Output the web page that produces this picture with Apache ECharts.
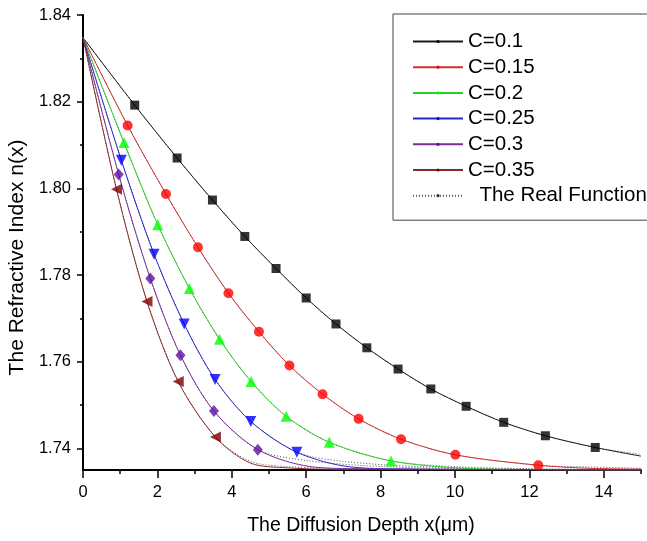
<!DOCTYPE html>
<html>
<head>
<meta charset="utf-8">
<script src="https://cdn.jsdelivr.net/npm/echarts@6/dist/echarts.min.js"></script>
<style>
  html, body { margin: 0; background: #fff; }
  #chart { width: 647px; height: 541px; }
</style>
</head>
<body>
<div id="chart"></div>
<script>
// all curves start from the surface index
const START = [0, 1.8348]

// marker points [x, n]
const c010Marks = [[1.39, 1.8192], [2.53, 1.8070], [3.48, 1.7973], [4.35, 1.7889], [5.19, 1.7815], [6.00, 1.7747],
  [6.80, 1.7687], [7.63, 1.7632], [8.47, 1.7583], [9.35, 1.7537], [10.30, 1.7497], [11.31, 1.7460], [12.43, 1.7429], [13.77, 1.7402]]
const c015Marks = [[1.20, 1.8145], [2.23, 1.7987], [3.09, 1.7864], [3.91, 1.7758], [4.73, 1.7669], [5.55, 1.7591],
  [6.44, 1.7525], [7.41, 1.7468], [8.55, 1.7421], [10.01, 1.7385], [12.24, 1.7361]]
const c020Marks = [[1.10, 1.8106], [2.01, 1.7916], [2.86, 1.7769], [3.67, 1.7652], [4.52, 1.7554], [5.46, 1.7474],
  [6.62, 1.7414], [8.28, 1.7371]]
const c025Marks = [[1.03, 1.8065], [1.91, 1.7848], [2.72, 1.7687], [3.55, 1.7559], [4.51, 1.7462], [5.75, 1.7391]]
const c030Marks = [[0.96, 1.8032], [1.81, 1.7792], [2.62, 1.7615], [3.52, 1.7486], [4.70, 1.7397]]
const c035Marks = [[0.90, 1.7998], [1.72, 1.7739], [2.56, 1.7554], [3.56, 1.7426]]

// tails of the fitted curves after the last marker
const c010Tail = [[15, 1.7382]]
const c015Tail = [[13.6, 1.7354], [15, 1.7352]]
const c020Tail = [[10.2, 1.7354], [12, 1.7351], [15, 1.7350]]
const c025Tail = [[7.2, 1.7357], [9, 1.7352], [15, 1.7350]]
const c030Tail = [[6.1, 1.7358], [7.5, 1.7353], [15, 1.7350]]
const c035Tail = [[4.5, 1.7366], [5.5, 1.7355], [7, 1.7351], [15, 1.7350]]

// tails of the real function (dotted), slightly above the fits
const c010RealTail = [[15, 1.7386]]
const c015RealTail = [[13.6, 1.7357], [15, 1.7354]]
const c020RealTail = [[10.2, 1.7357], [12, 1.7353], [15, 1.7351]]
const c025RealTail = [[7.0, 1.7370], [9, 1.7358], [12, 1.7352], [15, 1.7350]]
const c030RealTail = [[6.0, 1.7372], [8, 1.7358], [11, 1.7352], [15, 1.7350]]
const c035RealTail = [[4.5, 1.7370], [5.5, 1.7358], [7.5, 1.7352], [15, 1.7350]]

const names = ['C=0.1', 'C=0.15', 'C=0.2', 'C=0.25', 'C=0.3', 'C=0.35']
const REAL = 'The Real Function'

const yLabels = [1.74, 1.76, 1.78, 1.80, 1.82, 1.84]
const yMinor = [1.75, 1.77, 1.79, 1.81, 1.83]
const xLabels = [0, 2, 4, 6, 8, 10, 12, 14]
const xMinor = [1, 3, 5, 7, 9, 11, 13, 15]

const curves = [
  { marks: c010Marks, tail: c010Tail, real: c010RealTail, line: '#1a1a1a', fill: '#000000', symbol: 'rect', size: 9, rot: 0 },
  { marks: c015Marks, tail: c015Tail, real: c015RealTail, line: '#d03030', fill: '#ff0000', symbol: 'circle', size: 10, rot: 0 },
  { marks: c020Marks, tail: c020Tail, real: c020RealTail, line: '#2ccc2c', fill: '#00ff00', symbol: 'triangle', size: 11, rot: 0 },
  { marks: c025Marks, tail: c025Tail, real: c025RealTail, line: '#2828c8', fill: '#0000ff', symbol: 'triangle', size: 11, rot: 180 },
  { marks: c030Marks, tail: c030Tail, real: c030RealTail, line: '#7a2e9a', fill: '#6010a0', symbol: 'diamond', size: [10, 12], rot: 0 },
  { marks: c035Marks, tail: c035Tail, real: c035RealTail, line: '#8a2a2a', fill: '#800000', symbol: 'triangle', size: 11, rot: 90 },
]

const FONT = '"Liberation Sans", Arial, sans-serif'

const series = []
// dotted real function underneath
curves.forEach(c => {
  series.push({
    name: REAL, type: 'line', smooth: 0.3, symbol: 'circle', showSymbol: false,
    data: [START, ...c.marks, ...c.real],
    lineStyle: { color: '#555', width: 1, type: [1, 2] },
    itemStyle: { color: '#333' }, z: 1,
  })
})
curves.forEach((c, i) => {
  series.push({
    name: names[i], type: 'line', smooth: 0.3, symbol: 'circle', showSymbol: false,
    data: [START, ...c.marks, ...c.tail],
    lineStyle: { color: c.line, width: 1 },
    itemStyle: { color: c.fill }, z: 2,
  })
  series.push({
    name: names[i] + ' pts', type: 'scatter', data: c.marks,
    symbol: c.symbol, symbolSize: c.size, symbolRotate: c.rot,
    itemStyle: { color: c.fill }, z: 3,
  })
})

const chart = echarts.init(document.getElementById('chart'))
chart.setOption({
  animation: false,
  backgroundColor: '#fff',
  grid: { left: 83, right: 6, top: 15, bottom: 71 },
  legend: {
    data: [...names, REAL],
    orient: 'vertical', left: 393, top: 14,
    padding: [17, 40, 14, 19],
    borderColor: '#444', borderWidth: 1,
    itemWidth: 50, itemHeight: 4, itemGap: 4.7,
    textStyle: { fontSize: 20.5, color: '#000', fontFamily: FONT },
    formatter: n => n === REAL ? '  ' + n : n,
  },
  xAxis: [{
    type: 'value', min: 0, max: 15,
    axisLine: { lineStyle: { color: '#000', width: 2 } },
    axisTick: { customValues: xLabels, length: 8, inside: false, lineStyle: { color: '#000', width: 1.5 } },
    axisLabel: { customValues: xLabels, fontSize: 16.5, color: '#000', fontFamily: FONT, margin: 14 },
    splitLine: { show: false },
  }, {
    type: 'value', min: 0, max: 15, position: 'bottom',
    axisLine: { show: false },
    axisTick: { customValues: xMinor, length: 4, lineStyle: { color: '#000', width: 1.5 } },
    axisLabel: { show: false },
    splitLine: { show: false },
  }],
  yAxis: [{
    type: 'value', min: 1.735, max: 1.84,
    axisLine: { show: true, lineStyle: { color: '#000', width: 2 } },
    axisTick: { show: true, customValues: yLabels, length: 6, lineStyle: { color: '#000', width: 1.5 } },
    axisLabel: { customValues: yLabels, fontSize: 16.5, color: '#000', fontFamily: FONT, margin: 12, formatter: v => v.toFixed(2) },
    splitLine: { show: false },
  }, {
    type: 'value', min: 1.735, max: 1.84, position: 'left',
    axisLine: { show: false },
    axisTick: { show: true, customValues: yMinor, length: 3, lineStyle: { color: '#000', width: 1.5 } },
    axisLabel: { show: false },
    splitLine: { show: false },
  }],
  graphic: [
    { type: 'text', x: 361, y: 526, style: { text: 'The Diffusion Depth x(\u03bcm)', font: '19.5px ' + FONT, fill: '#000', align: 'center', verticalAlign: 'middle' } },
    { type: 'text', x: 17, y: 257.5, rotation: Math.PI / 2, style: { text: 'The Refractive Index n(x)', font: '21px ' + FONT, fill: '#000', align: 'center', verticalAlign: 'middle' } },
  ],
  series,
})
</script>
</body>
</html>
